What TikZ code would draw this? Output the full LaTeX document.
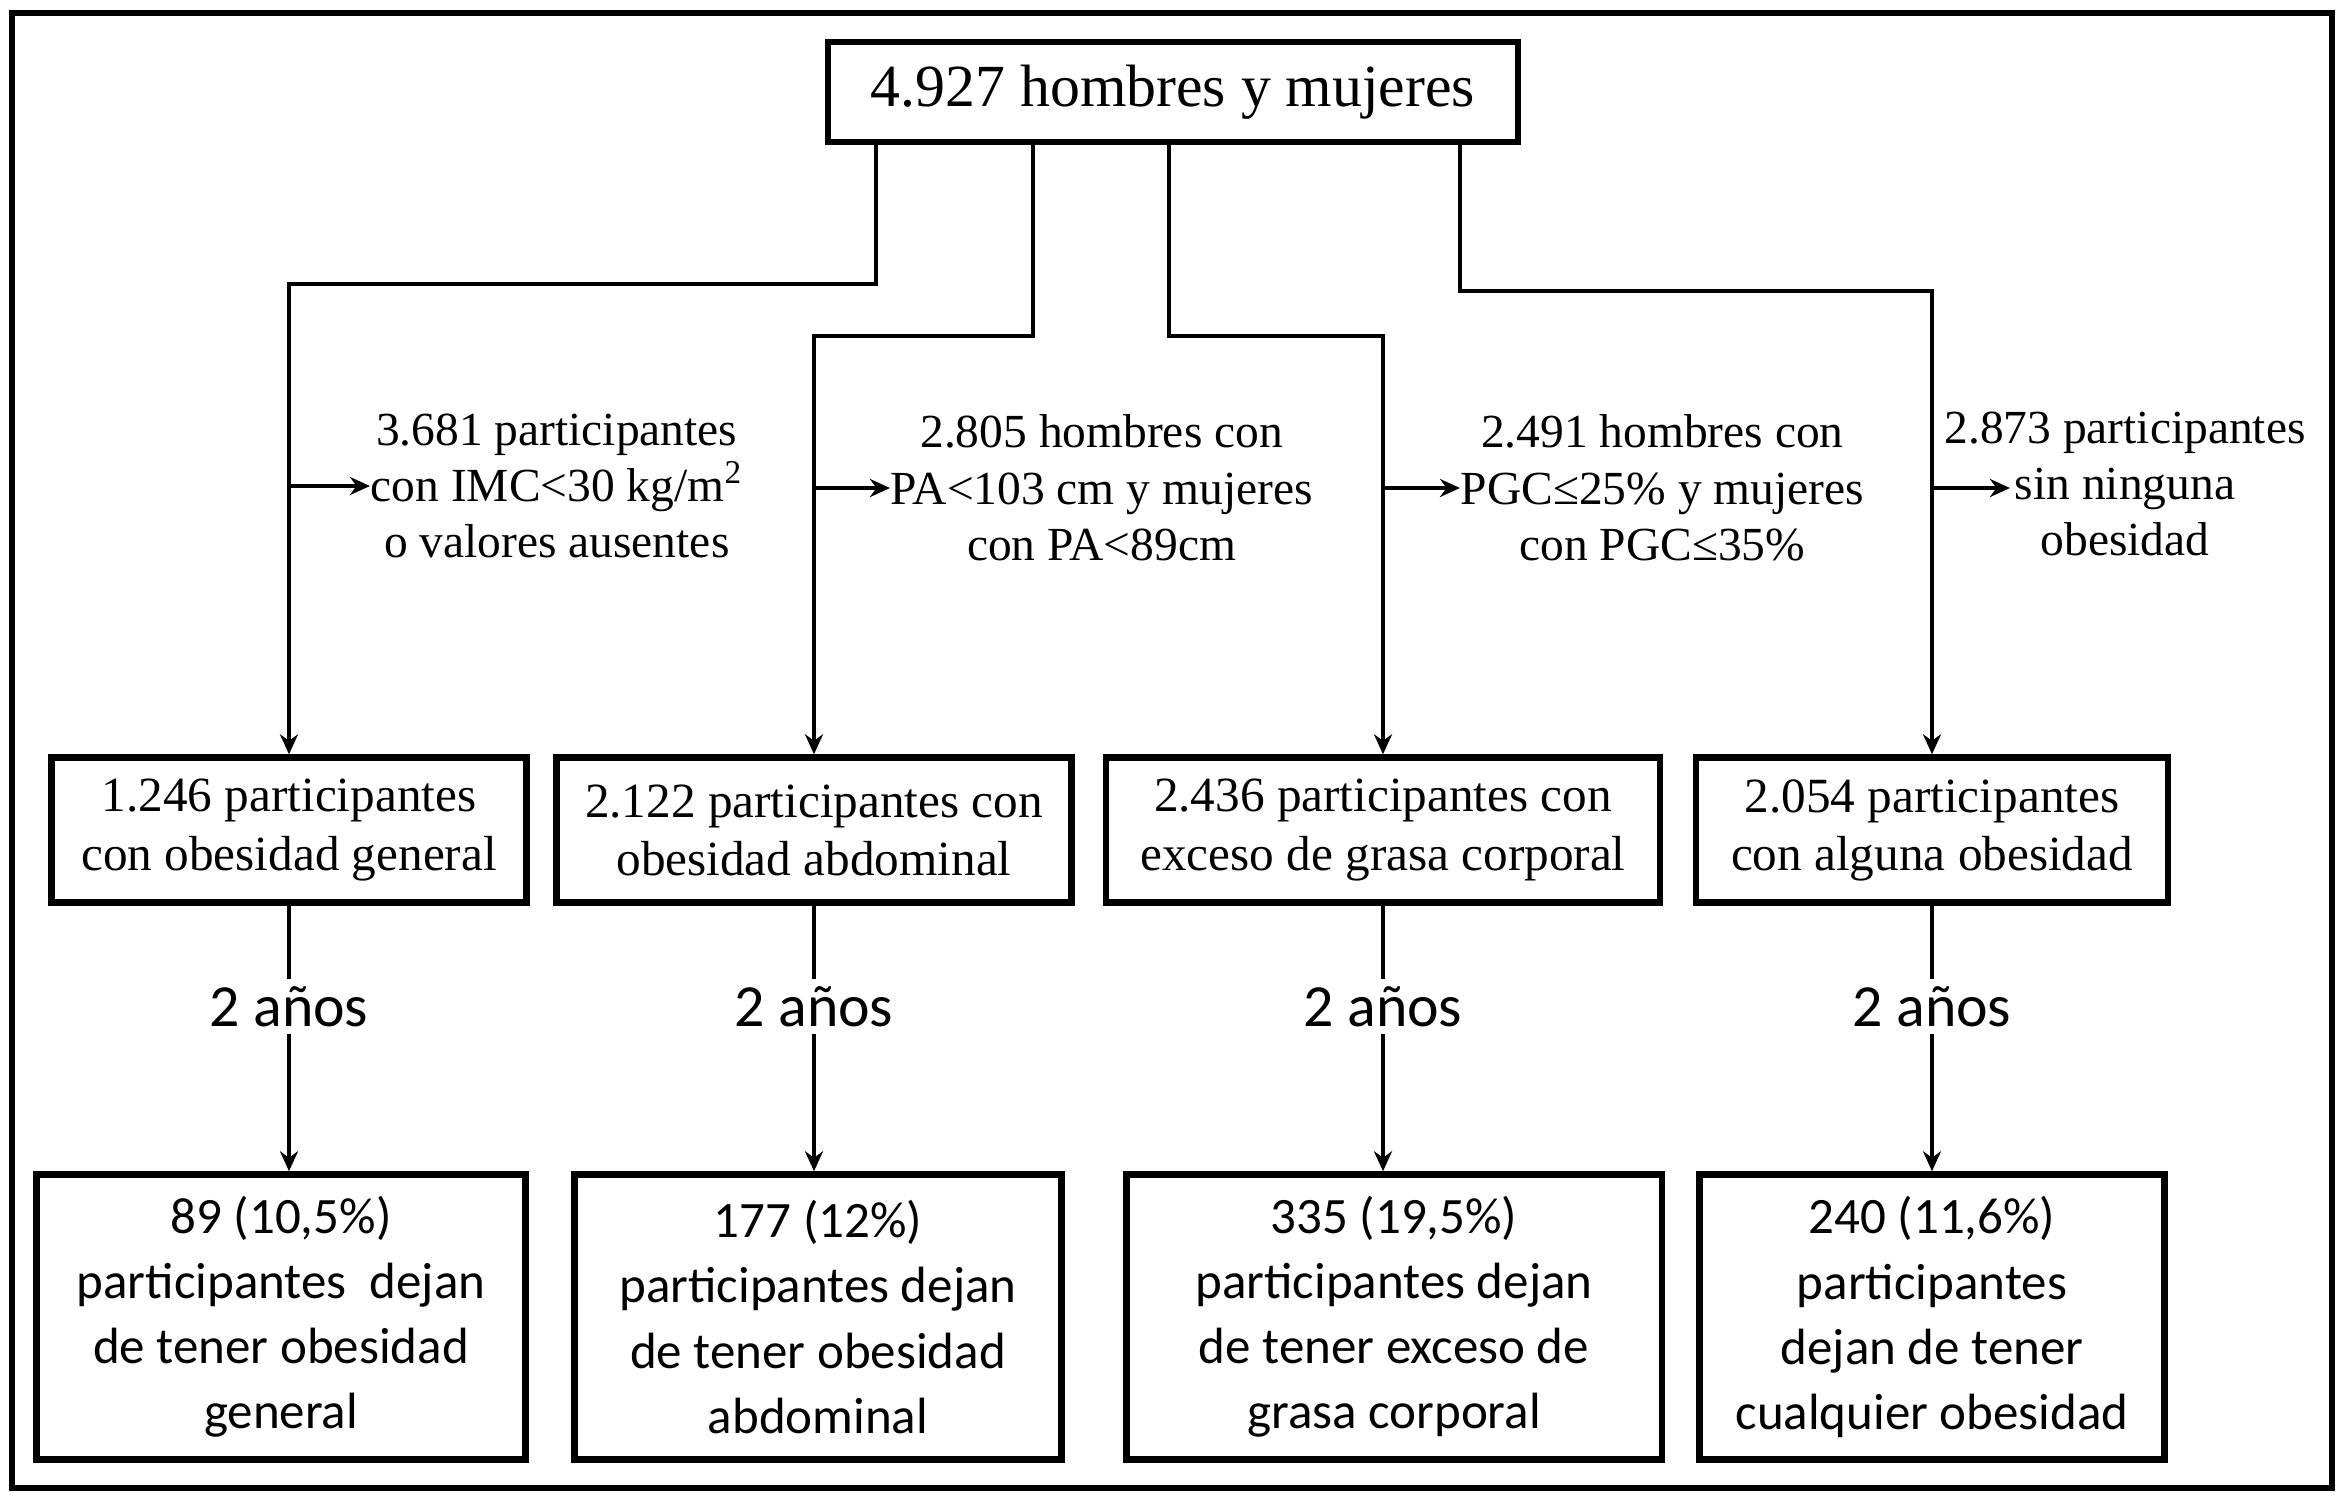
\documentclass[tikz,border=0pt]{standalone}
\usepackage{fontspec}
\setmainfont{Liberation Serif}
\newfontfamily\calibri{Carlito}
\usetikzlibrary{arrows.meta}

\begin{document}
\begin{tikzpicture}[x=0.01cm, y=-0.01cm,
  caja/.style={rectangle, draw, line width=1.8pt, align=center, inner sep=0pt},
  medio/.style={caja, minimum height=1.45cm, font=\fontsize{14}{16.5}\selectfont},
  final/.style={caja, minimum height=2.85cm, font=\calibri\fontsize{14.5}{18.5}\selectfont},
  nota/.style={align=center, inner sep=0pt, font=\fontsize{13.5}{16}\selectfont},
  anios/.style={fill=white, inner sep=2pt, font=\calibri\fontsize{17}{20}\selectfont},
  linea/.style={line width=1.3pt},
  flecha/.style={linea, -{Stealth[length=2mm, width=1.8mm]}}]
\useasboundingbox (0,0) rectangle (2341,1502);
\draw[line width=1.8pt] (12,13) rectangle (2332,1488);

% muestra inicial
\node[caja, minimum width=6.89cm, minimum height=1cm, font=\fontsize{17}{20}\selectfont] (total) at (1173,92) {4.927 hombres y mujeres};

% grupos con obesidad
\node[medio, minimum width=4.75cm] (m1) at (289,830) {1.246 participantes\\con obesidad general};
\node[medio, minimum width=5.15cm] (m2) at (814,830) {2.122 participantes con\\obesidad abdominal};
\node[medio, minimum width=5.54cm] (m3) at (1383,830) {2.436 participantes con\\exceso de grasa corporal};
\node[medio, minimum width=4.72cm] (m4) at (1932,830) {2.054 participantes\\con alguna obesidad};

% resultados a 2 anios
\node[final, minimum width=4.89cm] (b1) at (281,1317) {89 (10,5\%)\\participantes\ \ dejan\\de tener obesidad\\general};
\node[final, minimum width=4.87cm] (b2) at (818,1317) {177 (12\%)\\participantes dejan\\de tener obesidad\\abdominal};
\node[final, minimum width=5.35cm] (b3) at (1394,1317) {335 (19,5\%)\\participantes dejan\\de tener exceso de\\grasa corporal};
\node[final, minimum width=4.65cm] (b4) at (1932,1317) {240 (11,6\%)\\participantes\\dejan de tener\\cualquier obesidad};

% excluidos
\node[nota, anchor=west] (l1) at (370,486) {3.681 participantes\\con IMC<30 kg/m\textsuperscript{2}\\o valores ausentes};
\node[nota, anchor=west] (l2) at (890,488) {2.805 hombres con\\PA<103 cm y mujeres\\con PA<89cm};
\node[nota, anchor=west] (l3) at (1460,488) {2.491 hombres con\\PGC≤25\% y mujeres\\con PGC≤35\%};
\node[nota] (l4) at (2125,484) {2.873 participantes\\sin ninguna\\obesidad};
\coordinate (t4) at (2010,488);

\coordinate (c1) at (876,284);
\coordinate (c2) at (1033,336);
\coordinate (c3) at (1169,336);
\coordinate (c4) at (1460,291);

\draw[flecha] (total.south -| c1) -- (c1) -| (m1.north);
\draw[flecha] (total.south -| c2) -- (c2) -| (m2.north);
\draw[flecha] (total.south -| c3) -- (c3) -| (m3.north);
\draw[flecha] (total.south -| c4) -- (c4) -| (m4.north);

\draw[flecha] (m1.north |- l1.west) -- (l1.west);
\draw[flecha] (m2.north |- l2.west) -- (l2.west);
\draw[flecha] (m3.north |- l3.west) -- (l3.west);
\draw[flecha] (m4.north |- t4) -- (t4);

\draw[flecha] (m1.south) -- node[anios, pos=0.38] {2 años} (m1.south |- b1.north);
\draw[flecha] (m2.south) -- node[anios, pos=0.38] {2 años} (m2.south |- b2.north);
\draw[flecha] (m3.south) -- node[anios, pos=0.38] {2 años} (m3.south |- b3.north);
\draw[flecha] (m4.south) -- node[anios, pos=0.38] {2 años} (m4.south |- b4.north);
\end{tikzpicture}
\end{document}
